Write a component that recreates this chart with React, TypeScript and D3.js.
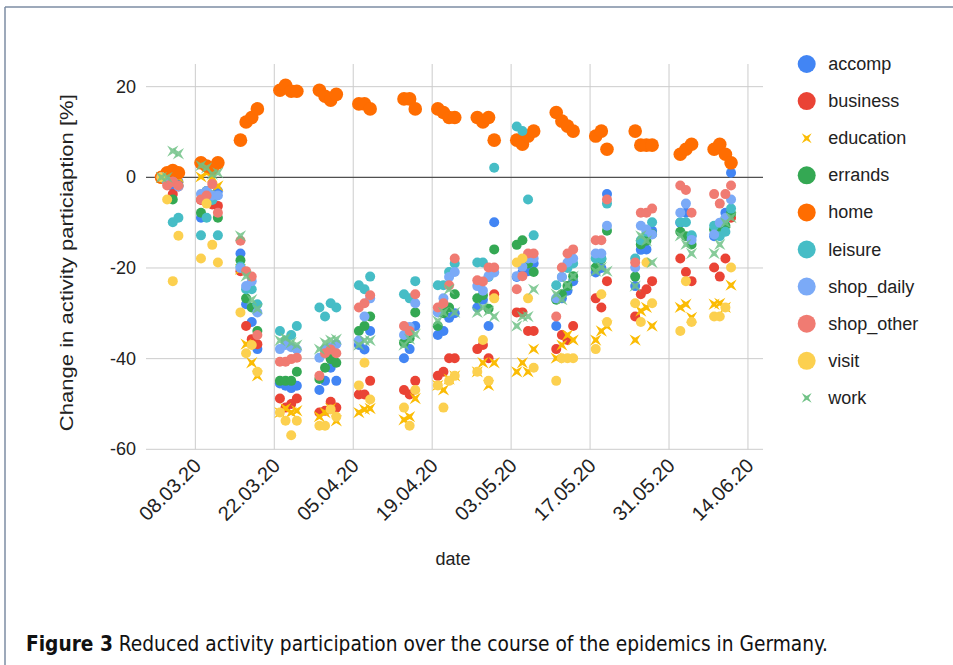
import React from "react";
import * as d3 from "d3";

// survey days (Mon-Thu, holidays missing)
const days = [
  "02.03.20", "03.03.20", "04.03.20", "05.03.20",
  "09.03.20", "10.03.20", "11.03.20", "12.03.20",
  "16.03.20", "17.03.20", "18.03.20", "19.03.20",
  "23.03.20", "24.03.20", "25.03.20", "26.03.20",
  "30.03.20", "31.03.20", "01.04.20", "02.04.20",
  "06.04.20", "07.04.20", "08.04.20",
  "14.04.20", "15.04.20", "16.04.20",
  "20.04.20", "21.04.20", "22.04.20", "23.04.20",
  "27.04.20", "28.04.20", "29.04.20", "30.04.20",
  "04.05.20", "05.05.20", "06.05.20", "07.05.20",
  "11.05.20", "12.05.20", "13.05.20", "14.05.20",
  "18.05.20", "19.05.20", "20.05.20",
  "25.05.20", "26.05.20", "27.05.20", "28.05.20",
  "02.06.20", "03.06.20", "04.06.20",
  "08.06.20", "09.06.20", "10.06.20", "11.06.20",
];

const accomp = [0, -1, -2, -1, -8.9, -4, -5, -3, -16.8, -28, -31.9, -37.9, -45.5, -46, -46.5, -46, -46.9, -44.9, -42, -44.9, -37, -38, -33.9, -39.9, -37.9, -32.8, -34.8, -33.9, -31, -30, -28.7, -27, -32.8, -9.9, -22, -21, -20.7, -19, -32.8, -26.7, -25, -22.9, -21, -20, -3.7, -24, -16, -15.9, -11.8, -10, -7.8, -13, -13, -11.8, -7.8, 1.0];
const business = [0, -1, -3.7, -2, -5, -4, -6, -6.3, -20.7, -32.8, -35.7, -36.8, -48.8, -50.8, -50, -48.8, -51.9, -51.5, -49.5, -50.8, -47.9, -47.9, -44.9, -46.9, -47.9, -44.9, -43.8, -42.9, -39.9, -39.9, -37.9, -37, -39.9, -25.8, -29.8, -29.8, -33.9, -33.9, -37.9, -34.8, -35.9, -32.8, -26.7, -28.7, -22.9, -30.7, -25.8, -24.7, -22.9, -17.9, -20.9, -22.9, -19.9, -21.9, -17.9, -8.9];
const education = [0, 0.5, 1, 0, 0.1, 1, 0, -1.9, -20.3, -36.8, -40.9, -43.8, -51.9, -51, -51.9, -51.5, -52.8, -51.9, -51, -53.7, -51.9, -51.2, -51, -53.5, -52.8, -48.8, -45.9, -46.9, -44.5, -43.8, -42.9, -40.9, -45.9, -40.9, -42.9, -40.9, -42.9, -37.9, -39.9, -37, -34.8, -35.9, -35.9, -33.9, -32.8, -35.9, -29.5, -28.7, -32.8, -28.7, -28, -30.9, -28, -27.8, -28.7, -23.8];
const errands = [0, -1, -4.9, -1.8, -7.8, -3, -4, -8.9, -18.3, -26.7, -28.7, -33.9, -44.9, -44.9, -44.9, -42.9, -44.5, -42, -40.1, -40.9, -33.9, -32.8, -30.7, -36.5, -35.5, -29.8, -32.8, -30, -28.7, -25.8, -26.7, -26, -29, -15.9, -14.9, -13.9, -19, -20.9, -27, -25.8, -24, -21.8, -19.9, -18, -11.8, -21.9, -14.8, -14, -12.5, -12, -13, -14.8, -11.5, -12, -10.7, -8];
const home = [0, 1, 1.5, 1, 3.2, 2.5, 2, 3.2, 8.2, 12.2, 13.2, 15.1, 19.2, 20.3, 19, 19, 19.2, 17.9, 17, 18.3, 16.2, 16.2, 15.1, 17.3, 17.3, 15.1, 15.1, 14.3, 13.2, 13.2, 13.2, 12.2, 13.2, 8.2, 8.2, 7.3, 9.1, 10.2, 14.3, 12.4, 11.3, 10.2, 9.1, 10.2, 6.2, 10.2, 7.1, 7.1, 7.1, 5.1, 6.2, 7.3, 6.2, 7.3, 5.1, 3.2];
const leisure = [0, -1, -9.9, -8.9, -12.8, -8.9, -5, -12.8, -19.7, -24.7, -24.7, -28, -33.9, -36, -34.8, -32.8, -28.7, -30.7, -27.8, -28.7, -23.8, -24.7, -21.9, -25.8, -26.7, -22.9, -23.8, -23.8, -20.9, -19, -18.8, -18.8, -22, 2.1, 11.2, 10.2, -4.9, -12.8, -23.8, -22, -20, -19, -17.9, -17.9, -5.8, -17.9, -13.9, -12, -9.9, -9.9, -9.9, -12.8, -10.7, -13, -12, -6.9];
const shopDaily = [0, -1, -1, -2, -3.7, -3, -4, -4, -20, -24, -22.9, -29.8, -37.9, -37, -37.5, -38, -39.8, -38, -37.5, -36.8, -36, -30.7, -26.7, -34.8, -33, -27.8, -29.8, -26.7, -22, -20.9, -24, -25, -21.8, -21, -21.8, -19.7, -17.9, -17.9, -26.7, -22, -18.8, -17.9, -16.8, -16.8, -10.7, -19.9, -10.7, -11.5, -12.6, -7.8, -5.8, -13.8, -12.6, -10, -9, -4.9];
const shopOther = [0, -1.8, -1, -1.8, -4.9, -4, -1.5, -7.8, -14, -20.7, -21.9, -34.8, -40.7, -40.7, -40.1, -39.8, -43.8, -38.8, -38, -38.8, -28.7, -27.8, -26, -32.8, -33.9, -25.8, -28.7, -27.8, -23.8, -17.9, -22.7, -23, -19.9, -19.9, -24.7, -21.8, -16.8, -16.8, -30.7, -19.9, -16.8, -15.9, -13.9, -13.9, -4.9, -18.8, -7.8, -7.8, -6.9, -1.8, -2.8, -7.8, -3.7, -5.8, -3.7, -1.8];
const visit = [0, -4.9, -22.9, -12.9, -17.9, -5.8, -14.9, -18.8, -29.8, -38.8, -37, -42.9, -51.9, -53.7, -56.9, -53.7, -54.8, -54.8, -51.2, -52.8, -45.9, -40.9, -49, -50.8, -54.8, -46.9, -45.9, -50.8, -44.9, -43.8, -42.9, -35.9, -44.9, -26.7, -18.8, -17.9, -26.7, -42, -44.9, -39.9, -39.9, -39.9, -37.9, -25.8, -31.9, -27.8, -31.9, -18.8, -27.8, -33.9, -22.9, -31.9, -30.7, -30.7, -28.7, -19.9];
const work = [0, 0, 5.8, 5.2, 2.6, 2.1, 0.7, 1, -12.9, -21.8, -27, -29, -36, -35.5, -36.5, -37, -37.9, -36.5, -35.9, -35.7, -37, -36, -36, -37, -35.7, -34.6, -31.7, -29.8, -24.7, -29.8, -29.8, -28.7, -29.5, -30.7, -32.8, -30.7, -30.7, -24.7, -25.8, -27, -23.8, -21.8, -20.7, -19.9, -20.7, -24, -12.9, -14, -18.8, -12.9, -14.8, -16.8, -16.8, -14.8, -10, -8.9];

const seriesNames = ["accomp", "business", "education", "errands", "home", "leisure", "shop_daily", "shop_other", "visit", "work"];
const seriesValues = [accomp, business, education, errands, home, leisure, shopDaily, shopOther, visit, work];
const seriesColors = ["#4285F4", "#EA4335", "#FBBC04", "#34A853", "#FF6D01", "#46BDC6", "#7BAAF7", "#F07B72", "#FCD04F", "#71C287"];
const starSeries = ["education", "work"];

const yTicks = [20, 0, -20, -40, -60];
const xTickLabels = ["08.03.20", "22.03.20", "05.04.20", "19.04.20", "03.05.20", "17.05.20", "31.05.20", "14.06.20"];

const parse = d3.timeParse("%d.%m.%y");

// four-pointed star turned 45deg, like the sheets "x" marker
const starPath = (r: number) => {
  const pts: [number, number][] = [];
  for (let i = 0; i < 8; i++) {
    const a = (Math.PI / 4) * i + Math.PI / 4;
    const rr = i % 2 === 0 ? r : r * 0.28;
    pts.push([Math.cos(a) * rr, Math.sin(a) * rr]);
  }
  return d3.line()(pts.concat([pts[0]])) + "Z";
};

const App: React.FC = () => {
  const width = 953;
  const height = 665;
  const left = 146;
  const right = 763;
  const top = 64;
  const bottom = 449.3;

  const x = d3
    .scaleTime()
    .domain([new Date(2020, 1, 28, 6), new Date(2020, 5, 16, 16)])
    .range([left, right]);
  const y = d3.scaleLinear().domain([-60, 25]).range([bottom, top]);

  const dates = days.map((d) => parse(d) as Date);
  const axisFont = "'Liberation Sans', Arial, sans-serif";

  return (
    <svg width={width} height={height} style={{ position: "absolute", left: 0, top: 0, background: "#fff" }}>
      {/* frame */}
      <line x1={5} y1={7} x2={width} y2={7} stroke="#7d8ca3" strokeWidth={1.5} />
      <line x1={5} y1={7} x2={5} y2={height} stroke="#7d8ca3" strokeWidth={1.5} />

      {/* gridlines */}
      <g>
        {yTicks.map((t) => (
          <line key={t} x1={left} x2={right} y1={y(t)} y2={y(t)} stroke="#cccccc" strokeWidth={1} />
        ))}
        {xTickLabels.map((t) => (
          <line key={t} x1={x(parse(t) as Date)} x2={x(parse(t) as Date)} y1={top} y2={bottom} stroke="#cccccc" strokeWidth={1} />
        ))}
        <line x1={left} x2={right} y1={y(0)} y2={y(0)} stroke="#333333" strokeWidth={1} />
      </g>

      {/* y labels */}
      {yTicks.map((t) => (
        <text key={t} x={136} y={y(t) + 6} textAnchor="end" fontSize={18} fontFamily={axisFont} fill="#222">
          {t}
        </text>
      ))}
      {/* x labels */}
      {xTickLabels.map((t) => {
        const px = x(parse(t) as Date);
        return (
          <text
            key={t}
            transform={`translate(${px + 7}, ${467}) rotate(-45)`}
            textAnchor="end"
            fontSize={20}
            fontFamily={axisFont}
            fill="#222"
          >
            {t}
          </text>
        );
      })}

      <text x={453} y={565} textAnchor="middle" fontSize={18} fontFamily={axisFont} fill="#222">
        date
      </text>
      <text
        transform={`translate(73, ${(top + bottom) / 2 + 6}) rotate(-90)`}
        textAnchor="middle"
        fontSize={19}
        fontFamily={axisFont}
        fill="#222"
        textLength={337}
        lengthAdjust="spacingAndGlyphs"
      >
        Change in activity particiaption [%]
      </text>

      {/* points */}
      {seriesNames.map((name, si) => {
        const vals = seriesValues[si];
        const color = seriesColors[si];
        const isStar = starSeries.includes(name);
        const r = name === "home" ? 6.8 : 5;
        return (
          <g key={name}>
            {vals.map((v, i) =>
              isStar ? (
                <path
                  key={i}
                  d={starPath(8)}
                  transform={`translate(${x(dates[i])}, ${y(v)})`}
                  fill={color}
                  fillOpacity={name === "work" ? 0.85 : 1}
                />
              ) : (
                <circle key={i} cx={x(dates[i])} cy={y(v)} r={r} fill={color} />
              )
            )}
          </g>
        );
      })}

      {/* legend */}
      {seriesNames.map((name, i) => {
        const ly = 64 + i * 37.1;
        const isStar = starSeries.includes(name);
        return (
          <g key={name} transform={`translate(806.7, ${ly})`}>
            {isStar ? (
              <path d={starPath(7)} fill={seriesColors[i]} />
            ) : (
              <circle r={9} fill={seriesColors[i]} />
            )}
            <text x={21.5} y={6} fontSize={18} fontFamily={axisFont} fill="#222">
              {name}
            </text>
          </g>
        );
      })}

      {/* caption */}
      <text x={26} y={651} fontSize={21} fontFamily="'Liberation Sans Narrow', 'DejaVu Sans Condensed', 'Liberation Sans', sans-serif" fill="#111" textLength={802} lengthAdjust="spacingAndGlyphs">
        <tspan fontWeight="bold">Figure 3</tspan>
        <tspan> Reduced activity participation over the course of the epidemics in Germany.</tspan>
      </text>
    </svg>
  );
};

export default App;
